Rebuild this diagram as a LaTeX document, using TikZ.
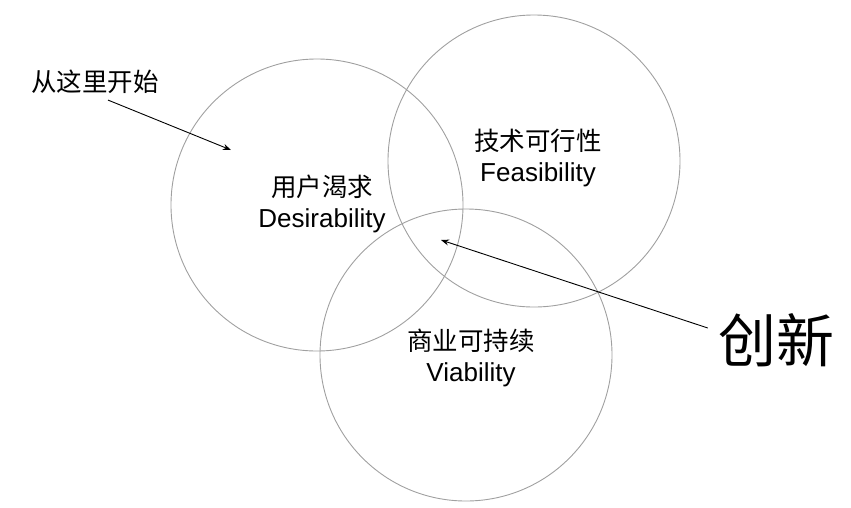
\documentclass[tikz,border=0pt]{standalone}
\usepackage{fontspec}
\setmainfont{Liberation Sans}
\newfontfamily\cjk{Noto Sans CJK SC}
\usetikzlibrary{arrows.meta,positioning}
\definecolor{VNgray}{RGB}{160,160,160}
\tikzset{
  ring/.style={circle,draw=VNgray,line width=0.9pt,minimum size=292pt,inner sep=0pt},
  lbl/.style={align=center,font=\fontsize{26}{31}\selectfont,inner sep=0pt},
  note/.style={font=\cjk\fontsize{25.5}{28}\selectfont,inner sep=0pt},
  big/.style={font=\cjk\fontsize{58}{62}\selectfont,inner sep=0pt},
  fl/.style={-{Stealth[length=8pt,width=6pt]},line width=0.9pt,draw=black}
}
\begin{document}
\begin{tikzpicture}[x=1pt,y=-1pt]
  \useasboundingbox (0,0) rectangle (851,507);
  % three circles
  \node[ring] (desire) at (317,205) {};
  \node[ring] (feasible) at (534,161) {};
  \node[ring] (viable) at (466,355) {};
  \node[lbl] (desiretxt) at (322,204) {{\cjk\fontsize{25.5}{31}\selectfont 用户渴求}\\Desirability};
  \node[lbl] (feasibletxt) at (538,158) {{\cjk\fontsize{25.5}{31}\selectfont 技术可行性}\\Feasibility};
  \node[lbl] (viabletxt) at (471,358) {{\cjk\fontsize{25.5}{31}\selectfont 商业可持续}\\Viability};
  % pointers
  \node[note] (start) at (95,82) {从这里开始};
  \coordinate (starttip) at (231,150);
  \draw[fl] ([xshift=13pt,yshift=-6pt]start.south) -- (starttip);
  \node[big] (innov) at (776,340) {创新};
  \coordinate (innovtip) at (441,240);
  \draw[fl] ([xshift=-10pt,yshift=12pt]innov.west) -- (innovtip);
\end{tikzpicture}
\end{document}
